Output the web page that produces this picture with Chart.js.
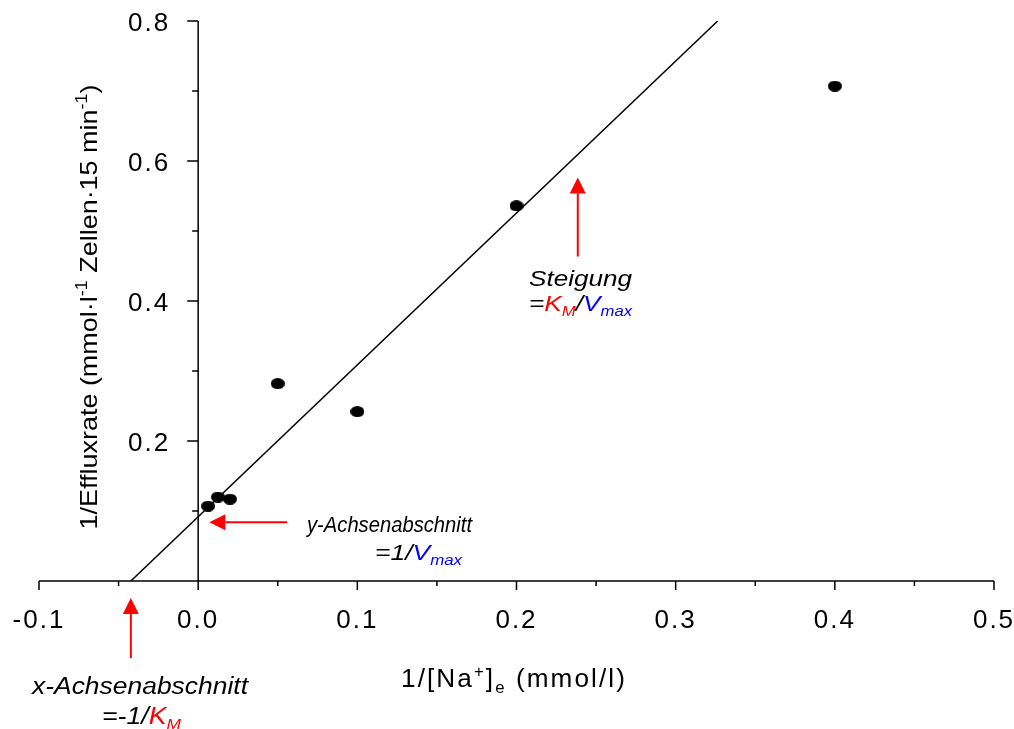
<!DOCTYPE html>
<html>
<head>
<meta charset="utf-8">
<script src="https://cdn.jsdelivr.net/npm/chart.js@4.4.1/dist/chart.umd.min.js"></script>
<style>
  html, body { margin: 0; padding: 0; background: #fff; }
  #wrap { width: 1014px; height: 729px; position: relative; }
</style>
</head>
<body>
<div id="wrap"><canvas id="lwb"></canvas></div>
<script>
// 1/[Na+]e against 1/efflux rate (Lineweaver-Burk)
const naInv = [0.00625, 0.0125, 0.02, 0.05, 0.1, 0.2, 0.4];
const effluxInv = [0.107, 0.120, 0.117, 0.282, 0.242, 0.536, 0.707];

// regression line, from the x intercept up to the top of the plot
const fitX = [-0.0423, 0.3264];
const fitY = [0, 0.8];

// axes
const xMajor = [-0.1, 0.0, 0.1, 0.2, 0.3, 0.4, 0.5];
const xMinor = [-0.05, 0.05, 0.15, 0.25, 0.35, 0.45];
const yMajor = [0.2, 0.4, 0.6, 0.8];
const yMinor = [0.1, 0.3, 0.5, 0.7];

// annotation anchors (data units)
const slopeArrowX = 0.2385;
const slopeArrowY = [0.5765, 0.4635];
const yCutArrowY = 0.084;
const yCutArrowX = [0.007, 0.056];

const FAM = "'Liberation Sans', Arial, sans-serif";
const RED = '#ff0000';
const BLUE = '#0000ff';

// filled ellipse used as point marker
const dot = document.createElement('canvas');
dot.width = 14; dot.height = 11;
const dctx = dot.getContext('2d');
dctx.fillStyle = '#000';
dctx.beginPath();
dctx.ellipse(7, 5.5, 7, 5.5, 0, 0, Math.PI * 2);
dctx.fill();

// draw a row of text runs (sub/superscripts, colours), optionally stretched to a width
function drawRuns(ctx, runs, x, y, o) {
    const fontFor = r => (o.italic ? 'italic ' : '') + Math.round(r.sub || r.sup ? o.size * 0.65 : o.size) + 'px ' + FAM;
    ctx.save();
    ctx.letterSpacing = (o.spacing || 0) + 'px';
    let w = 0;
    runs.forEach(r => { ctx.font = fontFor(r); w += ctx.measureText(r.t).width; });
    const sx = o.width ? o.width / w : 1;
    ctx.translate(x, y);
    if (o.rotate) ctx.rotate(o.rotate);
    ctx.scale(sx, 1);
    let cx = o.align === 'center' ? -w / 2 : 0;
    ctx.textBaseline = 'alphabetic';
    ctx.textAlign = 'left';
    runs.forEach(r => {
        ctx.font = fontFor(r);
        ctx.fillStyle = r.color || '#000';
        const dy = r.sup ? -o.size * 0.4 : (r.sub ? o.size * 0.22 : 0);
        ctx.fillText(r.t, cx, dy);
        cx += ctx.measureText(r.t).width;
    });
    ctx.restore();
}

function arrow(ctx, x1, y1, x2, y2) {
    // shaft from (x1,y1), head at (x2,y2)
    const ang = Math.atan2(y2 - y1, x2 - x1);
    const hl = 16, hw = 8;
    const bx = x2 - hl * Math.cos(ang), by = y2 - hl * Math.sin(ang);
    ctx.save();
    ctx.strokeStyle = RED;
    ctx.fillStyle = RED;
    ctx.lineWidth = 2;
    ctx.beginPath();
    ctx.moveTo(x1, y1);
    ctx.lineTo(bx, by);
    ctx.stroke();
    ctx.beginPath();
    ctx.moveTo(x2, y2);
    ctx.lineTo(bx + hw * Math.sin(ang), by - hw * Math.cos(ang));
    ctx.lineTo(bx - hw * Math.sin(ang), by + hw * Math.cos(ang));
    ctx.closePath();
    ctx.fill();
    ctx.restore();
}

const crossAxes = {
    id: 'crossAxes',
    beforeDatasetsDraw(chart) {
        const ctx = chart.ctx;
        const xs = chart.scales.x, ys = chart.scales.y;
        const x0 = xs.getPixelForValue(0), y0 = ys.getPixelForValue(0);
        ctx.save();
        ctx.strokeStyle = '#000';
        ctx.lineWidth = 1.5;
        ctx.beginPath();
        ctx.moveTo(xs.getPixelForValue(xMajor[0]), y0);
        ctx.lineTo(xs.getPixelForValue(xMajor[xMajor.length - 1]), y0);
        ctx.moveTo(x0, y0);
        ctx.lineTo(x0, ys.getPixelForValue(yMajor[yMajor.length - 1]));
        xMajor.forEach(v => { const p = xs.getPixelForValue(v); ctx.moveTo(p, y0); ctx.lineTo(p, y0 + 9); });
        xMinor.forEach(v => { const p = xs.getPixelForValue(v); ctx.moveTo(p, y0); ctx.lineTo(p, y0 + 5); });
        yMajor.forEach(v => { const p = ys.getPixelForValue(v); ctx.moveTo(x0, p); ctx.lineTo(x0 - 11, p); });
        yMinor.forEach(v => { const p = ys.getPixelForValue(v); ctx.moveTo(x0, p); ctx.lineTo(x0 - 6, p); });
        ctx.stroke();
        ctx.restore();

        ctx.save();
        ctx.fillStyle = '#000';
        ctx.font = '26px ' + FAM;
        ctx.letterSpacing = '2px';
        ctx.textAlign = 'center';
        ctx.textBaseline = 'alphabetic';
        xMajor.forEach(v => ctx.fillText(v.toFixed(1), xs.getPixelForValue(v), y0 + 47));
        ctx.textAlign = 'right';
        ctx.textBaseline = 'middle';
        yMajor.forEach(v => ctx.fillText(v.toFixed(1), x0 - 28, ys.getPixelForValue(v) + 3));
        ctx.restore();
    },
    afterDraw(chart) {
        const ctx = chart.ctx;
        const xs = chart.scales.x, ys = chart.scales.y;
        const y0 = ys.getPixelForValue(0);

        // axis titles
        drawRuns(ctx, [
            { t: '1/[Na' }, { t: '+', sup: true }, { t: ']' }, { t: 'e', sub: true }, { t: ' (mmol/l)' }
        ], 401, 687, { size: 25, spacing: 2, width: 226 });
        drawRuns(ctx, [
            { t: '1/Effluxrate (mmol\u00b7l' }, { t: '-1', sup: true },
            { t: ' Zellen\u00b715 min' }, { t: '-1', sup: true }, { t: ')' }
        ], 97, 307, { size: 24, rotate: -Math.PI / 2, align: 'center', width: 445 });

        // slope
        const sx = xs.getPixelForValue(slopeArrowX);
        arrow(ctx, sx, ys.getPixelForValue(slopeArrowY[1]), sx, ys.getPixelForValue(slopeArrowY[0]));
        drawRuns(ctx, [{ t: 'Steigung' }], 529, 286, { size: 22, italic: true, width: 103 });
        drawRuns(ctx, [
            { t: '=' }, { t: 'K', color: RED }, { t: 'M', sub: true, color: RED },
            { t: '/' }, { t: 'V', color: BLUE }, { t: 'max', sub: true, color: BLUE }
        ], 529, 311, { size: 22, italic: true, width: 103 });

        // y intercept
        const yy = ys.getPixelForValue(yCutArrowY);
        arrow(ctx, xs.getPixelForValue(yCutArrowX[1]), yy, xs.getPixelForValue(yCutArrowX[0]), yy);
        drawRuns(ctx, [{ t: 'y-Achsenabschnitt' }], 307, 532, { size: 22, italic: true, width: 165 });
        drawRuns(ctx, [
            { t: '=1/' }, { t: 'V', color: BLUE }, { t: 'max', sub: true, color: BLUE }
        ], 375, 560, { size: 22, italic: true, width: 87 });

        // x intercept, below the axis
        const xx = xs.getPixelForValue(fitX[0]);
        arrow(ctx, xx, y0 + 77, xx, y0 + 17);
        drawRuns(ctx, [{ t: 'x-Achsenabschnitt' }], 32, 694, { size: 23, italic: true, width: 216 });
        drawRuns(ctx, [
            { t: '=-1/' }, { t: 'K', color: RED }, { t: 'M', sub: true, color: RED }
        ], 102, 724, { size: 23, italic: true, width: 79 });
    }
};

new Chart(document.getElementById('lwb'), {
    type: 'scatter',
    data: {
        datasets: [
            {
                label: 'Messwerte',
                data: naInv.map((x, i) => ({ x: x, y: effluxInv[i] })),
                pointStyle: dot,
                pointRadius: 7,
                showLine: false
            },
            {
                label: 'Regression',
                data: fitX.map((x, i) => ({ x: x, y: fitY[i] })),
                showLine: true,
                borderColor: '#000',
                borderWidth: 1.5,
                pointRadius: 0,
                fill: false
            }
        ]
    },
    options: {
        responsive: true,
        maintainAspectRatio: false,
        animation: false,
        layout: { padding: { left: 39, right: 20, top: 21, bottom: 148 } },
        scales: {
            x: { type: 'linear', min: -0.1, max: 0.5, display: false },
            y: { type: 'linear', min: 0, max: 0.8, display: false }
        },
        plugins: {
            legend: { display: false },
            tooltip: { enabled: false }
        }
    },
    plugins: [crossAxes]
});
</script>
</body>
</html>
